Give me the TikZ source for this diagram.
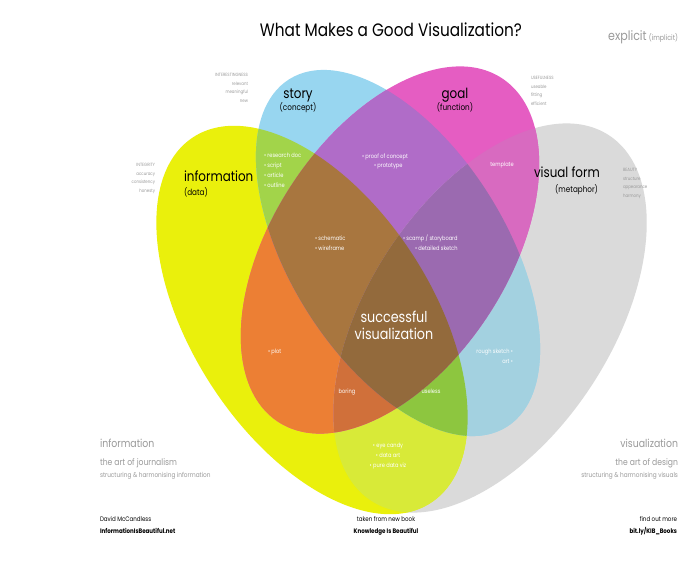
\documentclass[tikz,border=0pt]{standalone}
\usepackage{fontspec}
\setmainfont{Poppins}[FakeStretch=0.85]
\definecolor{cY}{HTML}{EAF00C}
\definecolor{cB}{HTML}{98D6F0}
\definecolor{cP}{HTML}{E55DC2}
\definecolor{cG}{HTML}{DADADA}
\definecolor{cYB}{HTML}{A2D44A}
\definecolor{cYP}{HTML}{EC7F34}
\definecolor{cYG}{HTML}{D8EA38}
\definecolor{cBP}{HTML}{B06CC8}
\definecolor{cBG}{HTML}{A3D1E0}
\definecolor{cPG}{HTML}{D86AC0}
\definecolor{cYBP}{HTML}{A8763F}
\definecolor{cYBG}{HTML}{8DC63F}
\definecolor{cYPG}{HTML}{D0703A}
\definecolor{cBPG}{HTML}{9B6AB0}
\definecolor{cAll}{HTML}{936A3C}
\definecolor{side}{HTML}{9A9A9A}
\newcommand\ellY[1]{\path[#1,shift={(312,320)},rotate=-57] (0,0) ellipse [x radius=218,y radius=120];}
\newcommand\ellG[1]{\path[#1,shift={(490,318)},rotate=57] (0,0) ellipse [x radius=218,y radius=122];}
\newcommand\ellB[1]{\path[#1,shift={(398,253)},rotate=-58] (0,0) ellipse [x radius=205,y radius=108];}
\newcommand\ellP[1]{\path[#1,shift={(390,250)},rotate=57] (0,0) ellipse [x radius=205,y radius=118];}
\begin{document}
\begin{tikzpicture}[x=1pt,y=-1pt,
  every node/.style={inner sep=0pt,outer sep=0pt},
  sidelab/.style={text=side,font=\fontsize{4.6}{8.8}\selectfont},
  inlab/.style={text=white,font=\fontsize{6}{10}\selectfont},
  setname/.style={text=black,font=\fontsize{14}{16}\selectfont},
  setsub/.style={text=black,font=\fontsize{8.5}{10}\selectfont},
  botA/.style={text=side,font=\fontsize{11}{12}\selectfont},
  botB/.style={text=side,font=\fontsize{9}{10}\selectfont},
  botC/.style={text=side,font=\fontsize{6.8}{8}\selectfont},
  credit/.style={text=black,font=\fontsize{6.5}{12}\selectfont}]
\useasboundingbox (0,0) rectangle (688,577);
\fill[white] (0,0) rectangle (688,577);
% single sets
\ellG{fill=cG}
\ellY{fill=cY}
\ellB{fill=cB}
\ellP{fill=cP}
% pairs
\begin{scope}\ellY{clip}\ellB{fill=cYB}\end{scope}
\begin{scope}\ellY{clip}\ellP{fill=cYP}\end{scope}
\begin{scope}\ellY{clip}\ellG{fill=cYG}\end{scope}
\begin{scope}\ellB{clip}\ellP{fill=cBP}\end{scope}
\begin{scope}\ellB{clip}\ellG{fill=cBG}\end{scope}
\begin{scope}\ellP{clip}\ellG{fill=cPG}\end{scope}
% triples
\begin{scope}\ellY{clip}\ellB{clip}\ellP{fill=cYBP}\end{scope}
\begin{scope}\ellY{clip}\ellB{clip}\ellG{fill=cYBG}\end{scope}
\begin{scope}\ellY{clip}\ellP{clip}\ellG{fill=cYPG}\end{scope}
\begin{scope}\ellB{clip}\ellP{clip}\ellG{fill=cBPG}\end{scope}
% all four
\begin{scope}\ellY{clip}\ellB{clip}\ellP{clip}\ellG{fill=cAll}\end{scope}
% title
\node[font=\fontsize{18}{22}\selectfont] (title) at (391,30) {What Makes a Good Visualization?};
\node[anchor=base east,text=side,font=\fontsize{13}{14}\selectfont] (expl) at (678,41) {explicit\,{\fontsize{7.5}{8}\selectfont(implicit)}};
% side labels
\node[sidelab,anchor=north east,align=right] (interest) at (248,73) {INTERESTINGNESS\\relevant\\meaningful\\new};
\node[sidelab,anchor=north east,align=right] (integ) at (155,163) {INTEGRITY\\accuracy\\consistency\\honesty};
\node[sidelab,anchor=north west,align=left] (useful) at (531,76) {USEFULNESS\\useable\\fitting\\efficient};
\node[sidelab,anchor=north west,align=left] (beauty) at (623,168) {BEAUTY\\structure\\appearance\\harmony};
% set names
\node[setname,anchor=base] (story) at (298,99) {story};
\node[setsub,anchor=base] (concept) at (298,111) {(concept)};
\node[setname,anchor=base] (goal) at (455,99) {goal};
\node[setsub,anchor=base] (function) at (455,111) {(function)};
\node[setname,anchor=base west] (info) at (184,182) {information};
\node[setsub,anchor=base west] (data) at (184,196) {(data)};
\node[setname,anchor=base west] (vform) at (534,178) {visual form};
\node[setsub,anchor=base east] (metaphor) at (598,193) {(metaphor)};
% inner labels
\node[inlab,anchor=north west,align=left] (research) at (264,153) {• research doc\\• script\\• article\\• outline};
\node[inlab,anchor=base west] (proof) at (362,159) {• proof of concept};
\node[inlab,anchor=base west] (proto) at (374,168) {• prototype};
\node[inlab,anchor=base] (templ) at (502,167) {template};
\node[inlab,anchor=base west] (schem) at (315,241) {• schematic};
\node[inlab,anchor=base west] (wire) at (315,251) {• wireframe};
\node[inlab,anchor=base west] (scamp) at (403,241) {• scamp / storyboard};
\node[inlab,anchor=base west] (detail) at (415,251) {• detailed sketch};
\node[text=white,font=\fontsize{15}{16}\selectfont,anchor=base] (succ1) at (394,323) {successful};
\node[text=white,font=\fontsize{15}{16}\selectfont,anchor=base] (succ2) at (394,339) {visualization};
\node[inlab,anchor=base west] (plot) at (268,353) {• plot};
\node[inlab,anchor=base east] (rough) at (513,353) {rough sketch •};
\node[inlab,anchor=base east] (art) at (513,363) {art •};
\node[inlab,anchor=base] (boring) at (347,393) {boring};
\node[inlab,anchor=base] (useless) at (431,393) {useless};
\node[inlab,anchor=north,align=center] (eye) at (388,443) {• eye candy\\• data art\\• pure data viz};
% bottom texts
\node[botA,anchor=base west] (binfo) at (100,447) {information};
\node[botB,anchor=base west] (bjour) at (100,465) {the art of journalism};
\node[botC,anchor=base west] (bstruct) at (100,477) {structuring \& harmonising information};
\node[botA,anchor=base east] (bvis) at (678,447) {visualization};
\node[botB,anchor=base east] (bdes) at (678,465) {the art of design};
\node[botC,anchor=base east] (bstructv) at (678,477) {structuring \& harmonising visuals};
\node[credit,anchor=north west,align=left] (author) at (100,517) {David McCandless\\\textbf{InformationIsBeautiful.net}};
\node[credit,anchor=north,align=center] (book) at (386,517) {taken from new book\\\textbf{Knowledge Is Beautiful}};
\node[credit,anchor=north east,align=right] (more) at (677,517) {find out more\\\textbf{bit.ly/KIB\_Books}};
\end{tikzpicture}
\end{document}
